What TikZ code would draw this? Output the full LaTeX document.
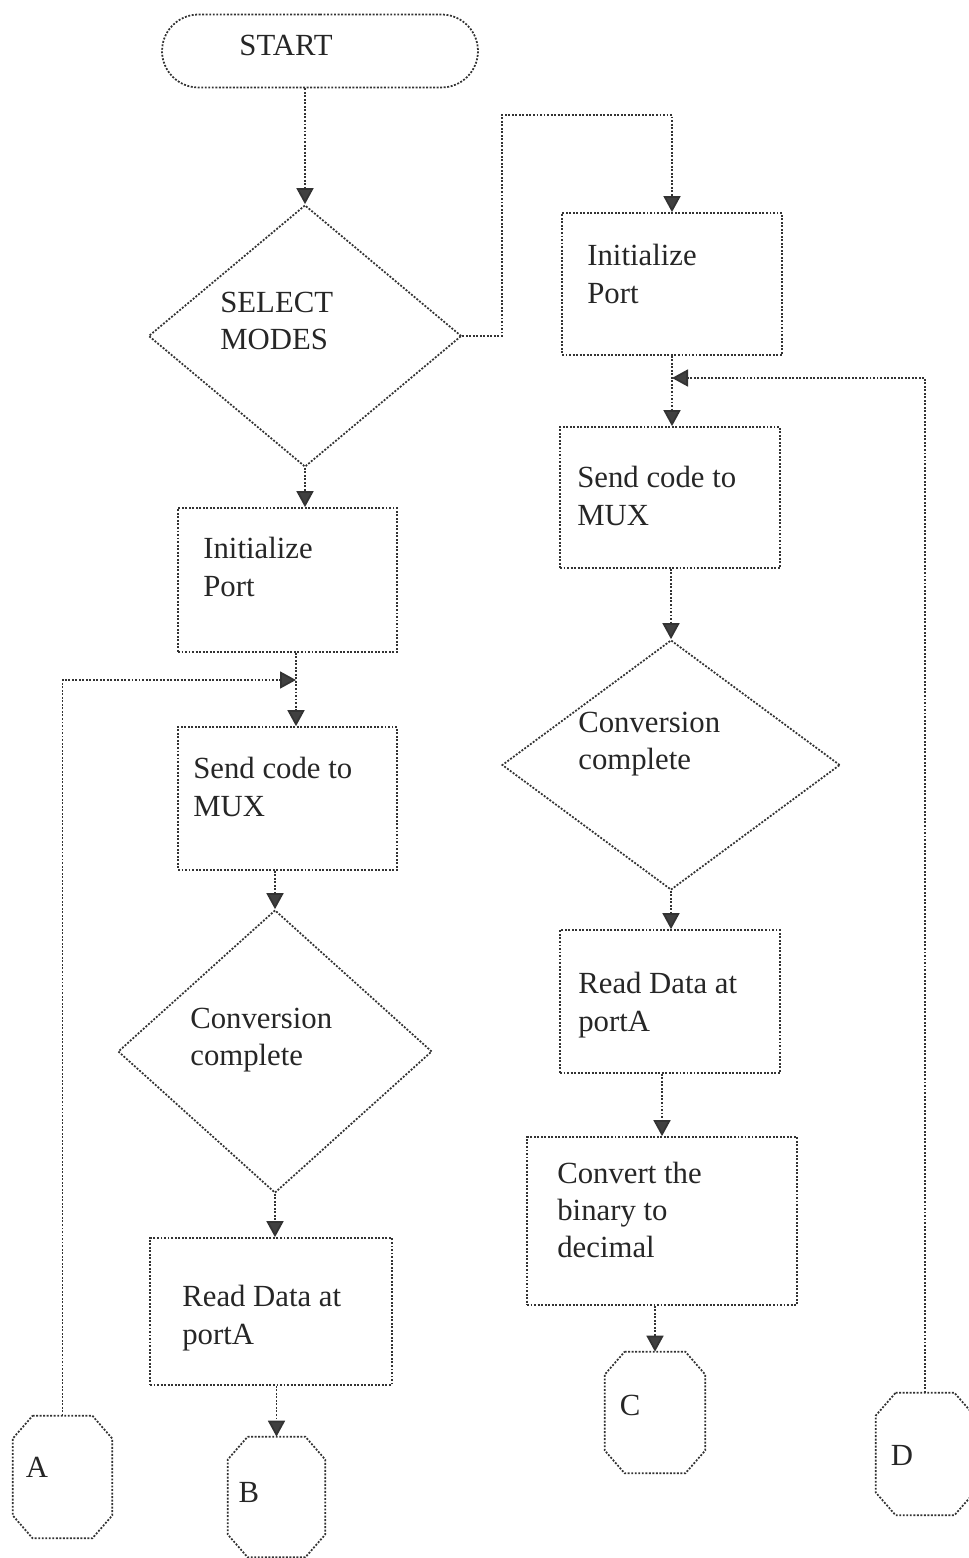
\documentclass[tikz,border=0pt]{standalone}
\usepackage{fontspec}
\setmainfont{Liberation Serif}
\usetikzlibrary{shapes.geometric,shapes.misc,arrows.meta}
% octagonal off-page connector drawn round a named rectangle node
\newcommand\octagonpath[1]{%
  \draw[line] ([xshift=0.4cm]#1.north west) -- ([xshift=-0.4cm]#1.north east)
    -- ([yshift=-0.46cm]#1.north east) -- ([yshift=0.46cm]#1.south east)
    -- ([xshift=-0.4cm]#1.south east) -- ([xshift=0.4cm]#1.south west)
    -- ([yshift=0.46cm]#1.south west) -- ([yshift=-0.46cm]#1.north west) -- cycle;}
\begin{document}
\begin{tikzpicture}[x=0.02cm,y=-0.02cm,
  line/.style={draw=black!80, line width=1pt, dash pattern=on 1.1pt off 0.9pt},
  flow/.style={line, -{Triangle[length=0.32cm,width=0.34cm,fill=black!75]}},
  box/.style={line, rectangle, inner sep=0pt},
  decision/.style={line, diamond, inner sep=0pt},
  terminal/.style={line, rounded rectangle, inner sep=0pt},
  connector/.style={rectangle, inner sep=0pt},
  txt/.style={font=\fontsize{17.5}{21.3}\selectfont, text=black!85, align=left, inner sep=0pt},
]
\useasboundingbox (0,0) rectangle (969,1558);

% ---- shapes ----
\node[terminal, minimum width=6.32cm, minimum height=1.46cm] (start) at (320,51) {};
\node[txt] (startT) at (286,45) {START};

\node[decision, minimum width=6.26cm, minimum height=5.24cm] (sel) at (305,336) {};
\node[txt, anchor=west] (selT) at (220,321) {SELECT\\MODES};

% left branch
\node[box, minimum width=4.38cm, minimum height=2.88cm] (initL) at (287.5,580) {};
\node[txt, anchor=west] (initLT) at (203,567) {Initialize\\Port};

\node[box, minimum width=4.38cm, minimum height=2.86cm] (sendL) at (287.5,798.5) {};
\node[txt, anchor=west] (sendLT) at (193,787) {Send code to\\MUX};

\node[decision, minimum width=6.28cm, minimum height=5.66cm] (convL) at (275,1051.5) {};
\node[txt, anchor=west] (convLT) at (190,1040) {Conversion\\complete};

\node[box, minimum width=4.84cm, minimum height=2.94cm] (readL) at (271,1311.5) {};
\node[txt, anchor=west] (readLT) at (182,1318) {Read Data at\\portA};

\node[connector, minimum width=1.98cm, minimum height=2.44cm] (A) at (62.5,1477) {};
\octagonpath{A}
\node[txt] (AT) at (37,1467) {A};
\node[connector, minimum width=1.94cm, minimum height=2.40cm] (B) at (276.5,1497) {};
\octagonpath{B}
\node[txt] (BT) at (249,1492) {B};

% right branch
\node[box, minimum width=4.40cm, minimum height=2.84cm] (initR) at (672,284) {};
\node[txt, anchor=west] (initRT) at (587,274) {Initialize\\Port};

\node[box, minimum width=4.40cm, minimum height=2.82cm] (sendR) at (670,497.5) {};
\node[txt, anchor=west] (sendRT) at (577,496) {Send code to\\MUX};

\node[decision, minimum width=6.76cm, minimum height=5.00cm] (convR) at (671,765) {};
\node[txt, anchor=west] (convRT) at (578,744) {Conversion\\complete};

\node[box, minimum width=4.40cm, minimum height=2.86cm] (readR) at (670,1001.5) {};
\node[txt, anchor=west] (readRT) at (578,1005) {Read Data at\\portA};

\node[box, minimum width=5.40cm, minimum height=3.36cm] (conv) at (662,1221) {};
\node[txt, anchor=west] (convT) at (557,1210) {Convert the\\binary to\\decimal};

\node[connector, minimum width=2.00cm, minimum height=2.42cm] (C) at (655,1412.5) {};
\octagonpath{C}
\node[txt] (CT) at (630,1405) {C};
\node[connector, minimum width=1.96cm, minimum height=2.44cm] (D) at (925,1454) {};
\octagonpath{D}
\node[txt] (DT) at (902,1455) {D};

% ---- junction points ----
\coordinate (jTop) at (502,115);
\coordinate (jL) at (296,680);
\coordinate (jR) at (672,378);

% ---- connectors ----
\draw[flow] (sel.north |- start.south) -- (sel.north);
\draw[flow] (sel.east) -| (jTop) -| (initR.north);
\draw[flow] (sel.south) -- (sel.south |- initL.north);
\draw[flow] (initL.south -| jL) -- (sendL.north -| jL);
\draw[flow] (A.north) |- (jL);
\draw[flow] (convL.north |- sendL.south) -- (convL.north);
\draw[flow] (convL.south) -- (convL.south |- readL.north);
\draw[flow] (B.north |- readL.south) -- (B.north);

\draw[flow] (initR.south) -- (initR.south |- sendR.north);
\draw[flow] (D.north) |- (jR);
\draw[flow] (convR.north |- sendR.south) -- (convR.north);
\draw[flow] (convR.south) -- (convR.south |- readR.north);
\draw[flow] (conv.north |- readR.south) -- (conv.north);
\draw[flow] (C.north |- conv.south) -- (C.north);
\end{tikzpicture}
\end{document}
